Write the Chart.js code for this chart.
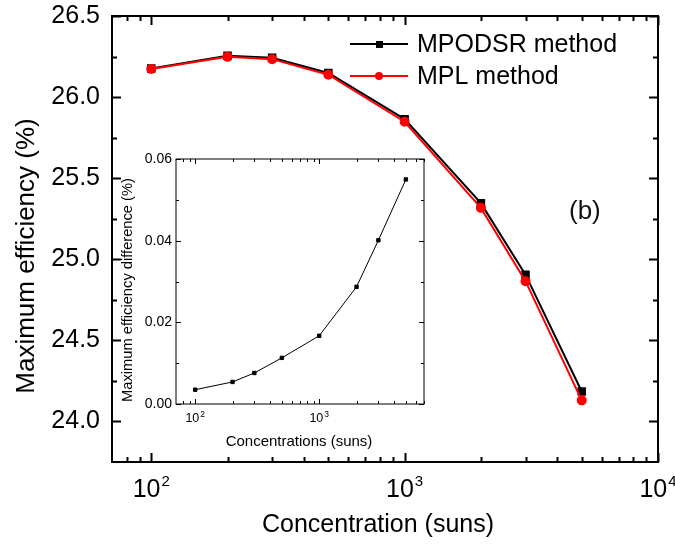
<!DOCTYPE html>
<html>
<head>
<meta charset="utf-8">
<script src="https://cdn.jsdelivr.net/npm/chart.js@4.4.1/dist/chart.umd.min.js"></script>
<style>
  html, body { margin: 0; padding: 0; background: #fff; }
  #wrap { position: relative; width: 675px; height: 548px; }
  #main { position: absolute; left: 0; top: 0; }
  #inset { position: absolute; left: 100px; top: 140px; }
  #tag {
    position: absolute; left: 569px; top: 195px;
    font: 26px "Liberation Sans", Arial, sans-serif; color: #111;
  }
</style>
</head>
<body>
<div id="wrap">
  <canvas id="main" width="675" height="548"></canvas>
  <canvas id="inset" width="340" height="320"></canvas>
  <div id="tag">(b)</div>
</div>
<script>
const FONT = '"Liberation Sans", Arial, "DejaVu Sans", sans-serif';

// concentration in suns
const concentration = [100, 200, 300, 500, 1000, 2000, 3000, 5000];
// maximum efficiency (%)
const mpodsrEff = [26.176, 26.255, 26.242, 26.149, 25.864, 25.346, 24.905, 24.185];
const mplEff    = [26.173, 26.248, 26.234, 26.138, 25.848, 25.317, 24.865, 24.130];
// inset: efficiency difference (%)
const effDiff = [0.0035, 0.0054, 0.0076, 0.0113, 0.0167, 0.0287, 0.0401, 0.0550];

const legendLabels = ['MPODSR method', 'MPL method'];

// tick values
const mainXTicks = [100, 1000, 10000];
const mainXMinor = [80, 90, 200, 300, 400, 500, 600, 700, 800, 900,
                    2000, 3000, 4000, 5000, 6000, 7000, 8000, 9000];
const mainYTicks = [24.0, 24.5, 25.0, 25.5, 26.0, 26.5];
const mainYMinor = [24.25, 24.75, 25.25, 25.75, 26.25];
const insetXTicks = [100, 1000];
const insetXMinor = [80, 90, 200, 300, 400, 500, 600, 700, 800, 900,
                     2000, 3000, 4000, 5000, 6000, 7000];
const insetYTicks = [0, 0.02, 0.04, 0.06];
const insetYMinor = [0.01, 0.03, 0.05];

// frame + inward ticks on all four sides, decade labels with real superscripts
const frameTicks = {
  id: 'frameTicks',
  afterDatasetsDraw(chart, args, o) {
    const { ctx, chartArea: a, scales: { x, y } } = chart;
    ctx.save();
    ctx.strokeStyle = '#000';
    ctx.lineWidth = o.lineWidth;
    ctx.beginPath();
    const xt = (vals, len) => vals.forEach(v => {
      const px = Math.round(x.getPixelForValue(v)) + 0.5;
      ctx.moveTo(px, a.bottom); ctx.lineTo(px, a.bottom - len);
      ctx.moveTo(px, a.top); ctx.lineTo(px, a.top + len);
    });
    const yt = (vals, len) => vals.forEach(v => {
      const py = Math.round(y.getPixelForValue(v)) + 0.5;
      ctx.moveTo(a.left, py); ctx.lineTo(a.left + len, py);
      ctx.moveTo(a.right, py); ctx.lineTo(a.right - len, py);
    });
    xt(o.xMajor, o.major); xt(o.xMinor, o.minor);
    yt(o.yMajor, o.major); yt(o.yMinor, o.minor);
    ctx.stroke();
    ctx.strokeRect(a.left, a.top, a.width, a.height);

    // 10^n labels under the x axis
    const d = o.decade;
    ctx.fillStyle = '#000';
    ctx.textBaseline = 'alphabetic';
    ctx.textAlign = 'left';
    o.xMajor.forEach(v => {
      const base = '10', exp = String(Math.round(Math.log10(v)));
      ctx.font = d.size + 'px ' + FONT;
      const wb = ctx.measureText(base).width;
      ctx.font = d.supSize + 'px ' + FONT;
      const we = ctx.measureText(exp).width;
      const left = x.getPixelForValue(v) - (wb + 1 + we) / 2;
      const by = a.bottom + d.baseline;
      ctx.font = d.size + 'px ' + FONT;
      ctx.fillText(base, left, by);
      ctx.font = d.supSize + 'px ' + FONT;
      ctx.fillText(exp, left + wb + 1, by - d.raise);
    });

    // axis titles
    (o.titles || []).forEach(t => {
      ctx.save();
      ctx.font = t.size + 'px ' + FONT;
      ctx.textAlign = 'center';
      ctx.textBaseline = 'middle';
      ctx.translate(t.cx, t.cy);
      if (t.rotate) ctx.rotate(-Math.PI / 2);
      ctx.fillText(t.text, 0, 0);
      ctx.restore();
    });
    ctx.restore();
  }
};

// legend inside the plot, top right
const mainLegend = {
  id: 'mainLegend',
  afterDraw(chart) {
    const ctx = chart.ctx;
    const rows = [44, 76];
    ctx.save();
    chart.data.datasets.forEach((ds, i) => {
      const yy = rows[i];
      ctx.strokeStyle = ds.borderColor;
      ctx.lineWidth = ds.borderWidth;
      ctx.beginPath(); ctx.moveTo(350, yy); ctx.lineTo(408, yy); ctx.stroke();
      ctx.fillStyle = ds.backgroundColor;
      ctx.beginPath();
      if (ds.pointStyle === 'rect') ctx.rect(376, yy - 3, 7, 7);
      else ctx.arc(379, yy, ds.pointRadius, 0, Math.PI * 2);
      ctx.fill();
      ctx.fillStyle = '#000';
      ctx.font = '25px ' + FONT;
      ctx.textBaseline = 'middle';
      ctx.fillText(legendLabels[i], 417, yy + 1);
    });
    ctx.restore();
  }
};

new Chart(document.getElementById('main'), {
  type: 'line',
  data: {
    labels: concentration,
    datasets: [
      { label: legendLabels[0], data: concentration.map((c, i) => ({ x: c, y: mpodsrEff[i] })),
        borderColor: '#000', backgroundColor: '#000', borderWidth: 2,
        pointStyle: 'rect', pointRadius: 4.6, order: 1 },
      { label: legendLabels[1], data: concentration.map((c, i) => ({ x: c, y: mplEff[i] })),
        borderColor: '#ff0000', backgroundColor: '#ff0000', borderWidth: 2,
        pointStyle: 'circle', pointRadius: 4, order: 0 }
    ]
  },
  options: {
    responsive: false, animation: false,
    layout: { padding: { left: 0, top: 16, right: 17, bottom: 0 } },
    plugins: {
      legend: { display: false }, tooltip: { enabled: false },
      frameTicks: { lineWidth: 2, major: 9, minor: 5,
        xMajor: mainXTicks, xMinor: mainXMinor, yMajor: mainYTicks, yMinor: mainYMinor,
        decade: { size: 25, supSize: 15, baseline: 35, raise: 11 },
        titles: [
          { text: 'Concentration (suns)', size: 25, cx: 378, cy: 525 },
          { text: 'Maximum efficiency (%)', size: 26, cx: 27, cy: 256, rotate: true }
        ] }
    },
    scales: {
      x: {
        type: 'logarithmic', min: 70, max: 10000,
        afterBuildTicks: s => { s.ticks = mainXTicks.map(v => ({ value: v })); },
        afterFit: s => { s.height = 86; s.paddingLeft = 0; s.paddingRight = 0; },
        grid: { display: false, drawTicks: false }, border: { display: false },
        ticks: { display: false }
      },
      y: {
        min: 23.75, max: 26.5,
        afterBuildTicks: s => { s.ticks = mainYTicks.map(v => ({ value: v })); },
        afterFit: s => { s.width = 112; s.paddingTop = 0; s.paddingBottom = 0; },
        grid: { display: false, drawTicks: false }, border: { display: false },
        ticks: { padding: 12, color: '#000', font: { family: FONT, size: 25 },
                 callback: v => v.toFixed(1) }
      }
    }
  },
  plugins: [frameTicks, mainLegend]
});

new Chart(document.getElementById('inset'), {
  type: 'line',
  data: {
    labels: concentration,
    datasets: [
      { data: concentration.map((c, i) => ({ x: c, y: effDiff[i] })),
        borderColor: '#000', backgroundColor: '#000', borderWidth: 1,
        pointStyle: 'rect', pointRadius: 2.4 }
    ]
  },
  options: {
    responsive: false, animation: false,
    layout: { padding: { left: 0, top: 19, right: 16, bottom: 0 } },
    plugins: {
      legend: { display: false }, tooltip: { enabled: false },
      frameTicks: { lineWidth: 1, major: 5, minor: 3,
        xMajor: insetXTicks, xMinor: insetXMinor, yMajor: insetYTicks, yMinor: insetYMinor,
        decade: { size: 12.5, supSize: 8.5, baseline: 18, raise: 5.5 },
        titles: [
          { text: 'Concentrations (suns)', size: 15, cx: 199, cy: 302 },
          { text: 'Maximum efficiency difference (%)', size: 14.7, cx: 28, cy: 150, rotate: true }
        ] }
    },
    scales: {
      x: {
        type: 'logarithmic', min: 70, max: 7000,
        afterBuildTicks: s => { s.ticks = insetXTicks.map(v => ({ value: v })); },
        afterFit: s => { s.height = 56; s.paddingLeft = 0; s.paddingRight = 0; },
        grid: { display: false, drawTicks: false }, border: { display: false },
        ticks: { display: false }
      },
      y: {
        min: 0, max: 0.06,
        afterBuildTicks: s => { s.ticks = insetYTicks.map(v => ({ value: v })); },
        afterFit: s => { s.width = 76; s.paddingTop = 0; s.paddingBottom = 0; },
        grid: { display: false, drawTicks: false }, border: { display: false },
        ticks: { padding: 4, color: '#000', font: { family: FONT, size: 14 },
                 callback: v => v.toFixed(2) }
      }
    }
  },
  plugins: [frameTicks]
});
</script>
</body>
</html>
